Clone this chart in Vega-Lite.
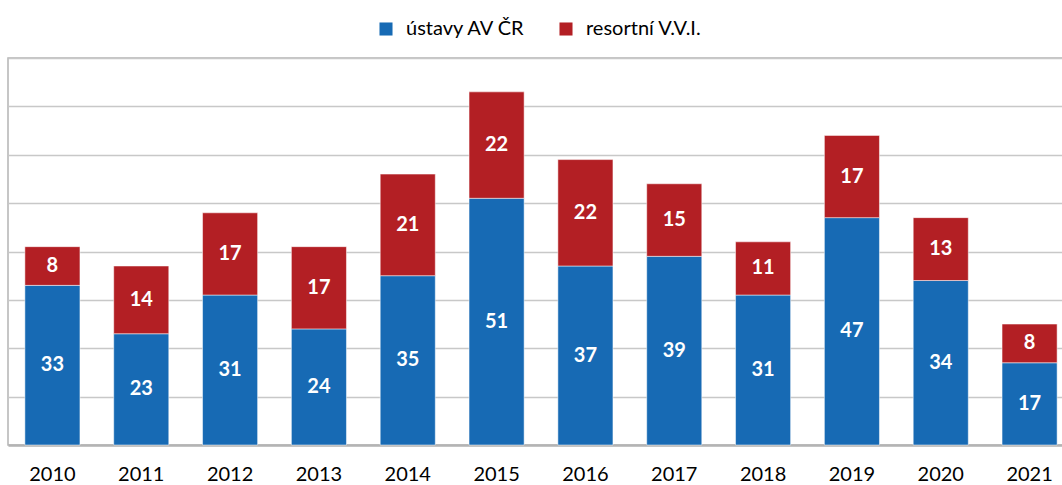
{
  "$schema": "https://vega.github.io/schema/vega-lite/v6.json",
  "autosize": "none",
  "padding": {"left": 8, "top": 58, "right": 0, "bottom": 40},
  "width": 1066,
  "height": 387,
  "background": "white",
  "config": {
    "view": {"stroke": "#b4b4b4", "strokeWidth": 1.5},
    "font": "Lato"
  },
  "data": {
    "values": [
      {"year": "2010", "group": "ústavy AV ČR", "order": 1, "value": 33},
      {"year": "2010", "group": "resortní V.V.I.", "order": 2, "value": 8},
      {"year": "2011", "group": "ústavy AV ČR", "order": 1, "value": 23},
      {"year": "2011", "group": "resortní V.V.I.", "order": 2, "value": 14},
      {"year": "2012", "group": "ústavy AV ČR", "order": 1, "value": 31},
      {"year": "2012", "group": "resortní V.V.I.", "order": 2, "value": 17},
      {"year": "2013", "group": "ústavy AV ČR", "order": 1, "value": 24},
      {"year": "2013", "group": "resortní V.V.I.", "order": 2, "value": 17},
      {"year": "2014", "group": "ústavy AV ČR", "order": 1, "value": 35},
      {"year": "2014", "group": "resortní V.V.I.", "order": 2, "value": 21},
      {"year": "2015", "group": "ústavy AV ČR", "order": 1, "value": 51},
      {"year": "2015", "group": "resortní V.V.I.", "order": 2, "value": 22},
      {"year": "2016", "group": "ústavy AV ČR", "order": 1, "value": 37},
      {"year": "2016", "group": "resortní V.V.I.", "order": 2, "value": 22},
      {"year": "2017", "group": "ústavy AV ČR", "order": 1, "value": 39},
      {"year": "2017", "group": "resortní V.V.I.", "order": 2, "value": 15},
      {"year": "2018", "group": "ústavy AV ČR", "order": 1, "value": 31},
      {"year": "2018", "group": "resortní V.V.I.", "order": 2, "value": 11},
      {"year": "2019", "group": "ústavy AV ČR", "order": 1, "value": 47},
      {"year": "2019", "group": "resortní V.V.I.", "order": 2, "value": 17},
      {"year": "2020", "group": "ústavy AV ČR", "order": 1, "value": 34},
      {"year": "2020", "group": "resortní V.V.I.", "order": 2, "value": 13},
      {"year": "2021", "group": "ústavy AV ČR", "order": 1, "value": 17},
      {"year": "2021", "group": "resortní V.V.I.", "order": 2, "value": 8}
    ]
  },
  "transform": [
    {"stack": "value", "groupby": ["year"], "sort": [{"field": "order", "order": "ascending"}], "as": ["v0", "v1"]},
    {"calculate": "(datum.v0 + datum.v1) / 2", "as": "mid"}
  ],
  "encoding": {
    "x": {
      "field": "year", "type": "ordinal", "title": null,
      "scale": {"paddingInner": 0.38, "paddingOuter": 0.19},
      "axis": {
        "labelAngle": 0, "labelFontSize": 20, "labelColor": "#000000", "labelPadding": 19,
        "ticks": false, "domainColor": "#b4b4b4", "domainWidth": 2.5, "labelFont": "Lato"
      }
    }
  },
  "layer": [
    {
      "mark": {"type": "bar", "stroke": "white", "strokeWidth": 0.5},
      "encoding": {
        "y": {
          "field": "v1", "type": "quantitative", "title": null,
          "scale": {"domain": [0, 80], "nice": false},
          "axis": {
            "values": [0, 10, 20, 30, 40, 50, 60, 70, 80], "labels": false, "ticks": false, "domain": false,
            "grid": true, "gridColor": "#c8c8c8", "gridWidth": 1.5
          }
        },
        "y2": {"field": "v0"},
        "color": {
          "field": "group", "type": "nominal",
          "scale": {"domain": ["ústavy AV ČR", "resortní V.V.I."], "range": ["#176AB4", "#B31F24"]},
          "legend": {
            "title": null, "orient": "none", "direction": "horizontal",
            "legendX": 368, "legendY": -39,
            "symbolType": "square", "symbolSize": 170, "symbolStrokeWidth": 0,
            "labelFontSize": 20, "labelColor": "#000000", "labelFont": "Lato",
            "columnPadding": 30, "labelOffset": 10
          }
        }
      }
    },
    {
      "mark": {"type": "text", "color": "white", "fontWeight": "bold", "fontSize": 20, "font": "Lato", "baseline": "middle"},
      "encoding": {
        "y": {"field": "mid", "type": "quantitative"},
        "text": {"field": "value", "type": "quantitative"}
      }
    }
  ]
}
